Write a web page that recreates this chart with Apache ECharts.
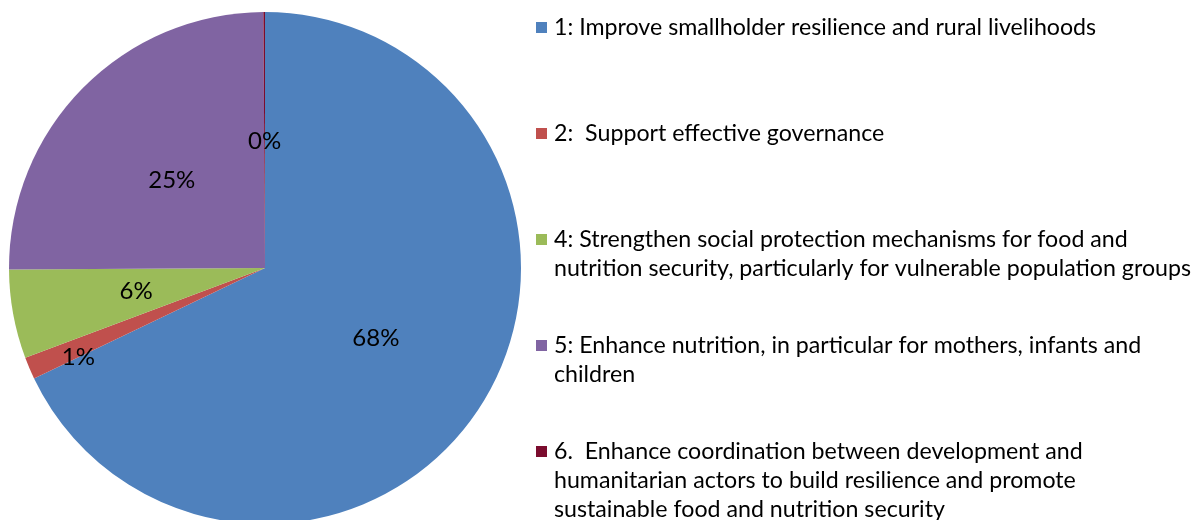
<!DOCTYPE html>
<html><head><meta charset="utf-8">
<script src="https://cdn.jsdelivr.net/npm/echarts@6/dist/echarts.min.js"></script>
<style>html,body{margin:0;padding:0;background:#fff}#c{width:1192px;height:520px}</style>
</head><body><div id="c"></div>
<script>
// Categories (legend text, with the wrapping used in the reference legend)
const categories = [
  '1: Improve smallholder resilience and rural livelihoods',
  '2:  Support effective governance',
  '4: Strengthen social protection mechanisms for food and\nnutrition security, particularly for vulnerable population groups',
  '5: Enhance nutrition, in particular for mothers, infants and\nchildren',
  '6.  Enhance coordination between development and\nhumanitarian actors to build resilience and promote\nsustainable food and nutrition security'
];
// Share of each category (percent)
const shares = [67.9, 1.4, 5.6, 25.0, 0.1];
const colors = ['#4F81BD', '#C0504D', '#9BBB59', '#8064A2', '#7B0C2E'];

const FONT = 'Lato';
const FS = 23.2;
const LH = 29;

const rich = {
  g: { width: 7, height: 11, lineHeight: LH },
  i: { width: 18, height: 11, lineHeight: LH }
};
colors.forEach((c, k) => {
  rich['s' + k] = { width: 11, height: 11, backgroundColor: c, lineHeight: LH, verticalAlign: 'middle' };
});

const chart = echarts.init(document.getElementById('c'), null, { renderer: 'canvas' });
chart.setOption({
  animation: false,
  backgroundColor: '#ffffff',
  color: colors,
  legend: {
    orient: 'vertical',
    left: 531,
    top: 13,
    height: 600,
    padding: 0,
    itemGap: 19,
    itemWidth: 0,
    itemHeight: 0,
    icon: 'rect',
    selectedMode: false,
    data: categories,
    textStyle: { fontFamily: FONT, fontSize: FS, color: '#000', lineHeight: LH, rich: rich },
    formatter: function (name) {
      const k = categories.indexOf(name);
      const lines = name.split('\n');
      const out = lines.map((l, j) => (j === 0 ? '{s' + k + '|}{g|}' : '{i|}') + l);
      while (out.length < 3) out.push('{i|}');
      return out.join('\n');
    }
  },
  series: [{
    type: 'pie',
    center: [265, 268],
    radius: [0, 256],
    startAngle: 90,
    clockwise: true,
    silent: true,
    avoidLabelOverlap: false,
    itemStyle: { borderWidth: 0 },
    label: {
      show: true,
      position: 'inside',
      fontFamily: FONT,
      fontSize: 24,
      color: '#000',
      formatter: p => Math.round(p.percent) + '%'
    },
    labelLine: { show: false },
    labelLayout: function (p) {
      if (p.dataIndex === 1) return { dx: -66, dy: 38 };
      if (p.dataIndex >= 3) return { dy: 4 };
      return {};
    },
    emphasis: { disabled: true },
    data: categories.map((n, k) => ({ name: n, value: shares[k] }))
  }]
});
</script>
</body></html>
